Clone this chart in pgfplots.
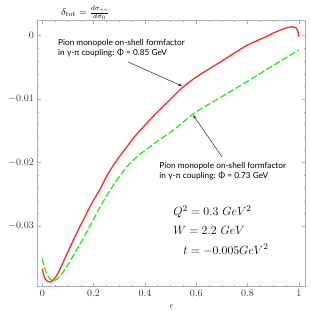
\documentclass[border=0pt]{standalone}
\usepackage{pgfplots}
\pgfplotsset{compat=1.18}
\usetikzlibrary{arrows.meta}
\usepackage{fontspec}
\newfontfamily\annfont{Lato}
\definecolor{myred}{RGB}{250,45,30}
\definecolor{mygreen}{RGB}{40,235,20}
\definecolor{framegray}{RGB}{175,175,175}
\begin{document}
\begin{tikzpicture}
\begin{axis}[
  scale only axis, width=268.4bp, height=266.7bp,
  xmin=-0.0195, xmax=1.027, ymin=-0.03953, ymax=0.00247,
  axis line style={framegray, line width=0.6bp},
  scaled y ticks=false, scaled x ticks=false,
  xtick={0,0.2,0.4,0.6,0.8,1}, xticklabels={$0$,$0.2$,$0.4$,$0.6$,$0.8$,$1$},
  ytick={-0.03,-0.02,-0.01,0}, yticklabels={$-0.03$,$-0.02$,$-0.01$,$0$},
  minor x tick num=3, minor y tick num=4,
  tick style={framegray, line width=0.5bp},
  major tick length=4bp, minor tick length=2bp,
  tick align=inside,
  ticklabel style={black!80},
  xlabel={$\epsilon$},
  xlabel style={black!80, font=\small, yshift=-1bp},
]
\addplot[myred, line width=1.3bp, smooth, tension=0.5] coordinates {
(0,-0.0367) (0.005,-0.0376) (0.01,-0.0382) (0.02,-0.0387) (0.03,-0.0388)
(0.04,-0.0386) (0.05,-0.0381) (0.06,-0.0375) (0.08,-0.0358) (0.1,-0.0340)
(0.12,-0.0323) (0.14,-0.0306) (0.16,-0.0290) (0.18,-0.0274) (0.2,-0.0259)
(0.225,-0.0242) (0.25,-0.0222) (0.277,-0.0204) (0.3,-0.0191) (0.33,-0.0175)
(0.36,-0.0159) (0.4,-0.0141) (0.44,-0.0124) (0.5,-0.0100) (0.54,-0.0084)
(0.58,-0.0071) (0.62,-0.0060) (0.66,-0.0050) (0.7,-0.0040) (0.75,-0.0027) (0.8,-0.0015)
(0.875,-0.0001) (0.9,0.0004) (0.95,0.0012) (0.975,0.0014) (0.99,0.0012)
(0.996,0.0008) (1.0,-0.0002)
};
\addplot[mygreen, line width=1.3bp, smooth, tension=0.5, dash pattern=on 6.5bp off 2.5bp] coordinates {
(0,-0.0351) (0.005,-0.0360) (0.01,-0.0367) (0.02,-0.0377) (0.03,-0.0383)
(0.042,-0.0386) (0.055,-0.0384) (0.07,-0.0378) (0.085,-0.0370) (0.1,-0.0361)
(0.12,-0.0347) (0.14,-0.0333) (0.16,-0.0319) (0.18,-0.0304) (0.2,-0.0289)
(0.225,-0.0270) (0.26,-0.0246) (0.29,-0.0228) (0.315,-0.0214) (0.34,-0.0202)
(0.38,-0.0187) (0.42,-0.0175) (0.46,-0.0163) (0.5,-0.0152) (0.55,-0.0136) (0.6,-0.0120)
(0.7,-0.0096) (0.8,-0.0072) (0.9,-0.0047) (1.0,-0.00225)
};
\node[anchor=west, align=left, font=\annfont\fontsize{8.3}{10}\selectfont, inner sep=0pt]
  at (axis cs:0.061,-0.00194) {Pion monopole on-shell formfactor\\in γ-π coupling: Φ = 0.85 GeV};
\draw[-{Stealth[length=4bp,width=3bp]}, black!85, line width=0.5bp] (axis cs:0.335,-0.00414) -- (axis cs:0.545,-0.00794);
\node[anchor=west, align=left, font=\annfont\fontsize{8.3}{10}\selectfont, inner sep=0pt]
  at (axis cs:0.456,-0.0213) {Pion monopole on-shell formfactor\\in γ-π coupling: Φ = 0.73 GeV};
\draw[-{Stealth[length=4bp,width=3bp]}, black!85, line width=0.5bp] (axis cs:0.701,-0.0191) -- (axis cs:0.588,-0.0125);
\node[anchor=base west, inner sep=0pt, font=\fontsize{12.3}{14}\selectfont] at (axis cs:0.51,-0.02835) {$Q^2 = 0.3\ GeV^2$};
\node[anchor=base west, inner sep=0pt, font=\fontsize{12.3}{14}\selectfont] at (axis cs:0.51,-0.0313) {$W = 2.2\ GeV$};
\node[anchor=base west, inner sep=0pt, font=\fontsize{12.3}{14}\selectfont] at (axis cs:0.549,-0.0344) {$t = -0.005 GeV^2$};
\end{axis}
\node[anchor=west, inner sep=0pt, font=\fontsize{10}{12}\selectfont] at ([shift={(23.7bp,7.5bp)}]current axis.north west)
  {$\delta_{\rm tot} = \frac{d\sigma_{\gamma\gamma}}{d\sigma_0}$};
\pgfresetboundingbox
\path ([shift={(-37.3bp,-24.3bp)}]current axis.south west) rectangle ([shift={(5.3bp,20bp)}]current axis.north east);
\end{tikzpicture}
\end{document}
